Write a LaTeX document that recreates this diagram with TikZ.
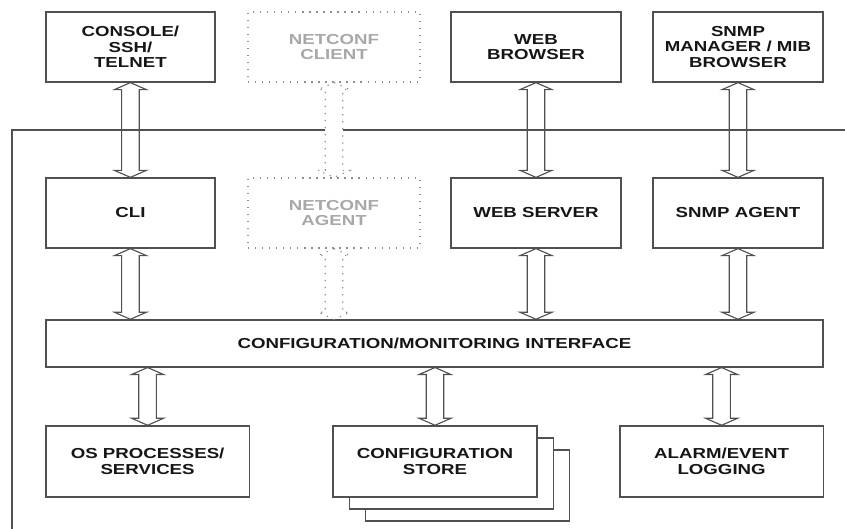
\documentclass[tikz,border=0pt]{standalone}
\usepackage{fontspec}
\newfontfamily\boxfont[FakeStretch=1.29]{Liberation Sans Bold}
\usetikzlibrary{calc}
\definecolor{linegray}{HTML}{505050}
\definecolor{textgray}{HTML}{161616}
\definecolor{dotgray}{HTML}{8E8E8E}
\definecolor{ghosttext}{HTML}{A8A8A8}
\tikzset{
	blk/.style={draw=linegray,line width=0.9pt,fill=white,align=center,text=textgray,inner sep=0pt,
		font=\boxfont\fontsize{10.3}{11.2}\selectfont},
	ghost/.style={blk,draw=dotgray,dash pattern=on 0.9pt off 4.1pt,text=ghosttext},
	dblarrow/.style={draw=linegray,line width=0.8pt,to path={
		(\tikztostart) -- ++(0.4,-0.175) -- ++(-0.18,0) -- ($(\tikztotarget)+(0.22,0.175)$) -- ++(0.18,0)
		-- (\tikztotarget) -- ++(-0.4,0.175) -- ++(0.18,0) -- ($(\tikztostart)+(-0.22,-0.175)$) -- ++(-0.18,0) -- cycle}},
	ghostarrow/.style={dblarrow,draw=dotgray,fill=white,dash pattern=on 0.9pt off 4.1pt},
}
\newcommand{\makestack}[2]{
	\coordinate (#1) at #2;
	\node (#1B) at ($(#1) + (0.82,-0.6)$) [blk,minimum width=5.1cm,minimum height=1.775cm] {};
	\node (#1A) at ($(#1) + (0.41,-0.3)$) [blk,minimum width=5.1cm,minimum height=1.775cm] {};
}

\begin{document}
\begin{tikzpicture}
	\useasboundingbox (0,0) rectangle (21.125,13.225);
	\coordinate (frameR) at (21.125,9.975);
	\coordinate (frameB) at (0.3,0);
	\draw[linegray,line width=0.9pt] (frameR) -| (frameB);
	\node (console) at (3.26,12.05) [blk,minimum width=4.225cm,minimum height=1.75cm] {CONSOLE/\\SSH/\\TELNET};
	\node (nclient) at (8.35,12.05) [ghost,minimum width=4.3cm,minimum height=1.75cm] {NETCONF\\CLIENT};
	\node (browser) at (13.4,12.05) [blk,minimum width=4.25cm,minimum height=1.75cm] {WEB\\BROWSER};
	\node (snmpmgr) at (18.45,12.05) [blk,minimum width=4.25cm,minimum height=1.75cm] {SNMP\\MANAGER / MIB\\BROWSER};
	\node (cli) at (3.26,7.9) [blk,minimum width=4.225cm,minimum height=1.75cm] {CLI};
	\node (nagent) at (8.35,7.9) [ghost,minimum width=4.3cm,minimum height=1.75cm] {NETCONF\\AGENT};
	\node (webserver) at (13.4,7.9) [blk,minimum width=4.25cm,minimum height=1.75cm] {WEB SERVER};
	\node (snmpagent) at (18.45,7.9) [blk,minimum width=4.25cm,minimum height=1.75cm] {SNMP AGENT};
	\node (iface) at (10.86,4.64) [blk,minimum width=19.425cm,minimum height=1.175cm] {CONFIGURATION/MONITORING INTERFACE};
	\node (os) at (3.69,1.69) [blk,minimum width=5.08cm,minimum height=1.775cm] {OS PROCESSES/\\SERVICES};
	\makestack{cfg}{(10.875,1.69)}
	\node (store) at (cfg) [blk,minimum width=5.1cm,minimum height=1.775cm] {CONFIGURATION\\STORE};
	\node (alarm) at (18.04,1.69) [blk,minimum width=5.08cm,minimum height=1.775cm] {ALARM/EVENT\\LOGGING};
	\draw[dblarrow] (console.south) to (cli.north);
	\draw[dblarrow] (browser.south) to (webserver.north);
	\draw[dblarrow] (snmpmgr.south) to (snmpagent.north);
	\draw[ghostarrow] (nclient.south) to (nagent.north);
	\draw[dblarrow] (cli.south) to (cli.south |- iface.north);
	\draw[ghostarrow] (nagent.south) to (nagent.south |- iface.north);
	\draw[dblarrow] (webserver.south) to (webserver.south |- iface.north);
	\draw[dblarrow] (snmpagent.south) to (snmpagent.south |- iface.north);
	\draw[dblarrow] (iface.south -| os.north) to (os.north);
	\draw[dblarrow] (iface.south -| store.north) to (store.north);
	\draw[dblarrow] (iface.south -| alarm.north) to (alarm.north);
\end{tikzpicture}
\end{document}
